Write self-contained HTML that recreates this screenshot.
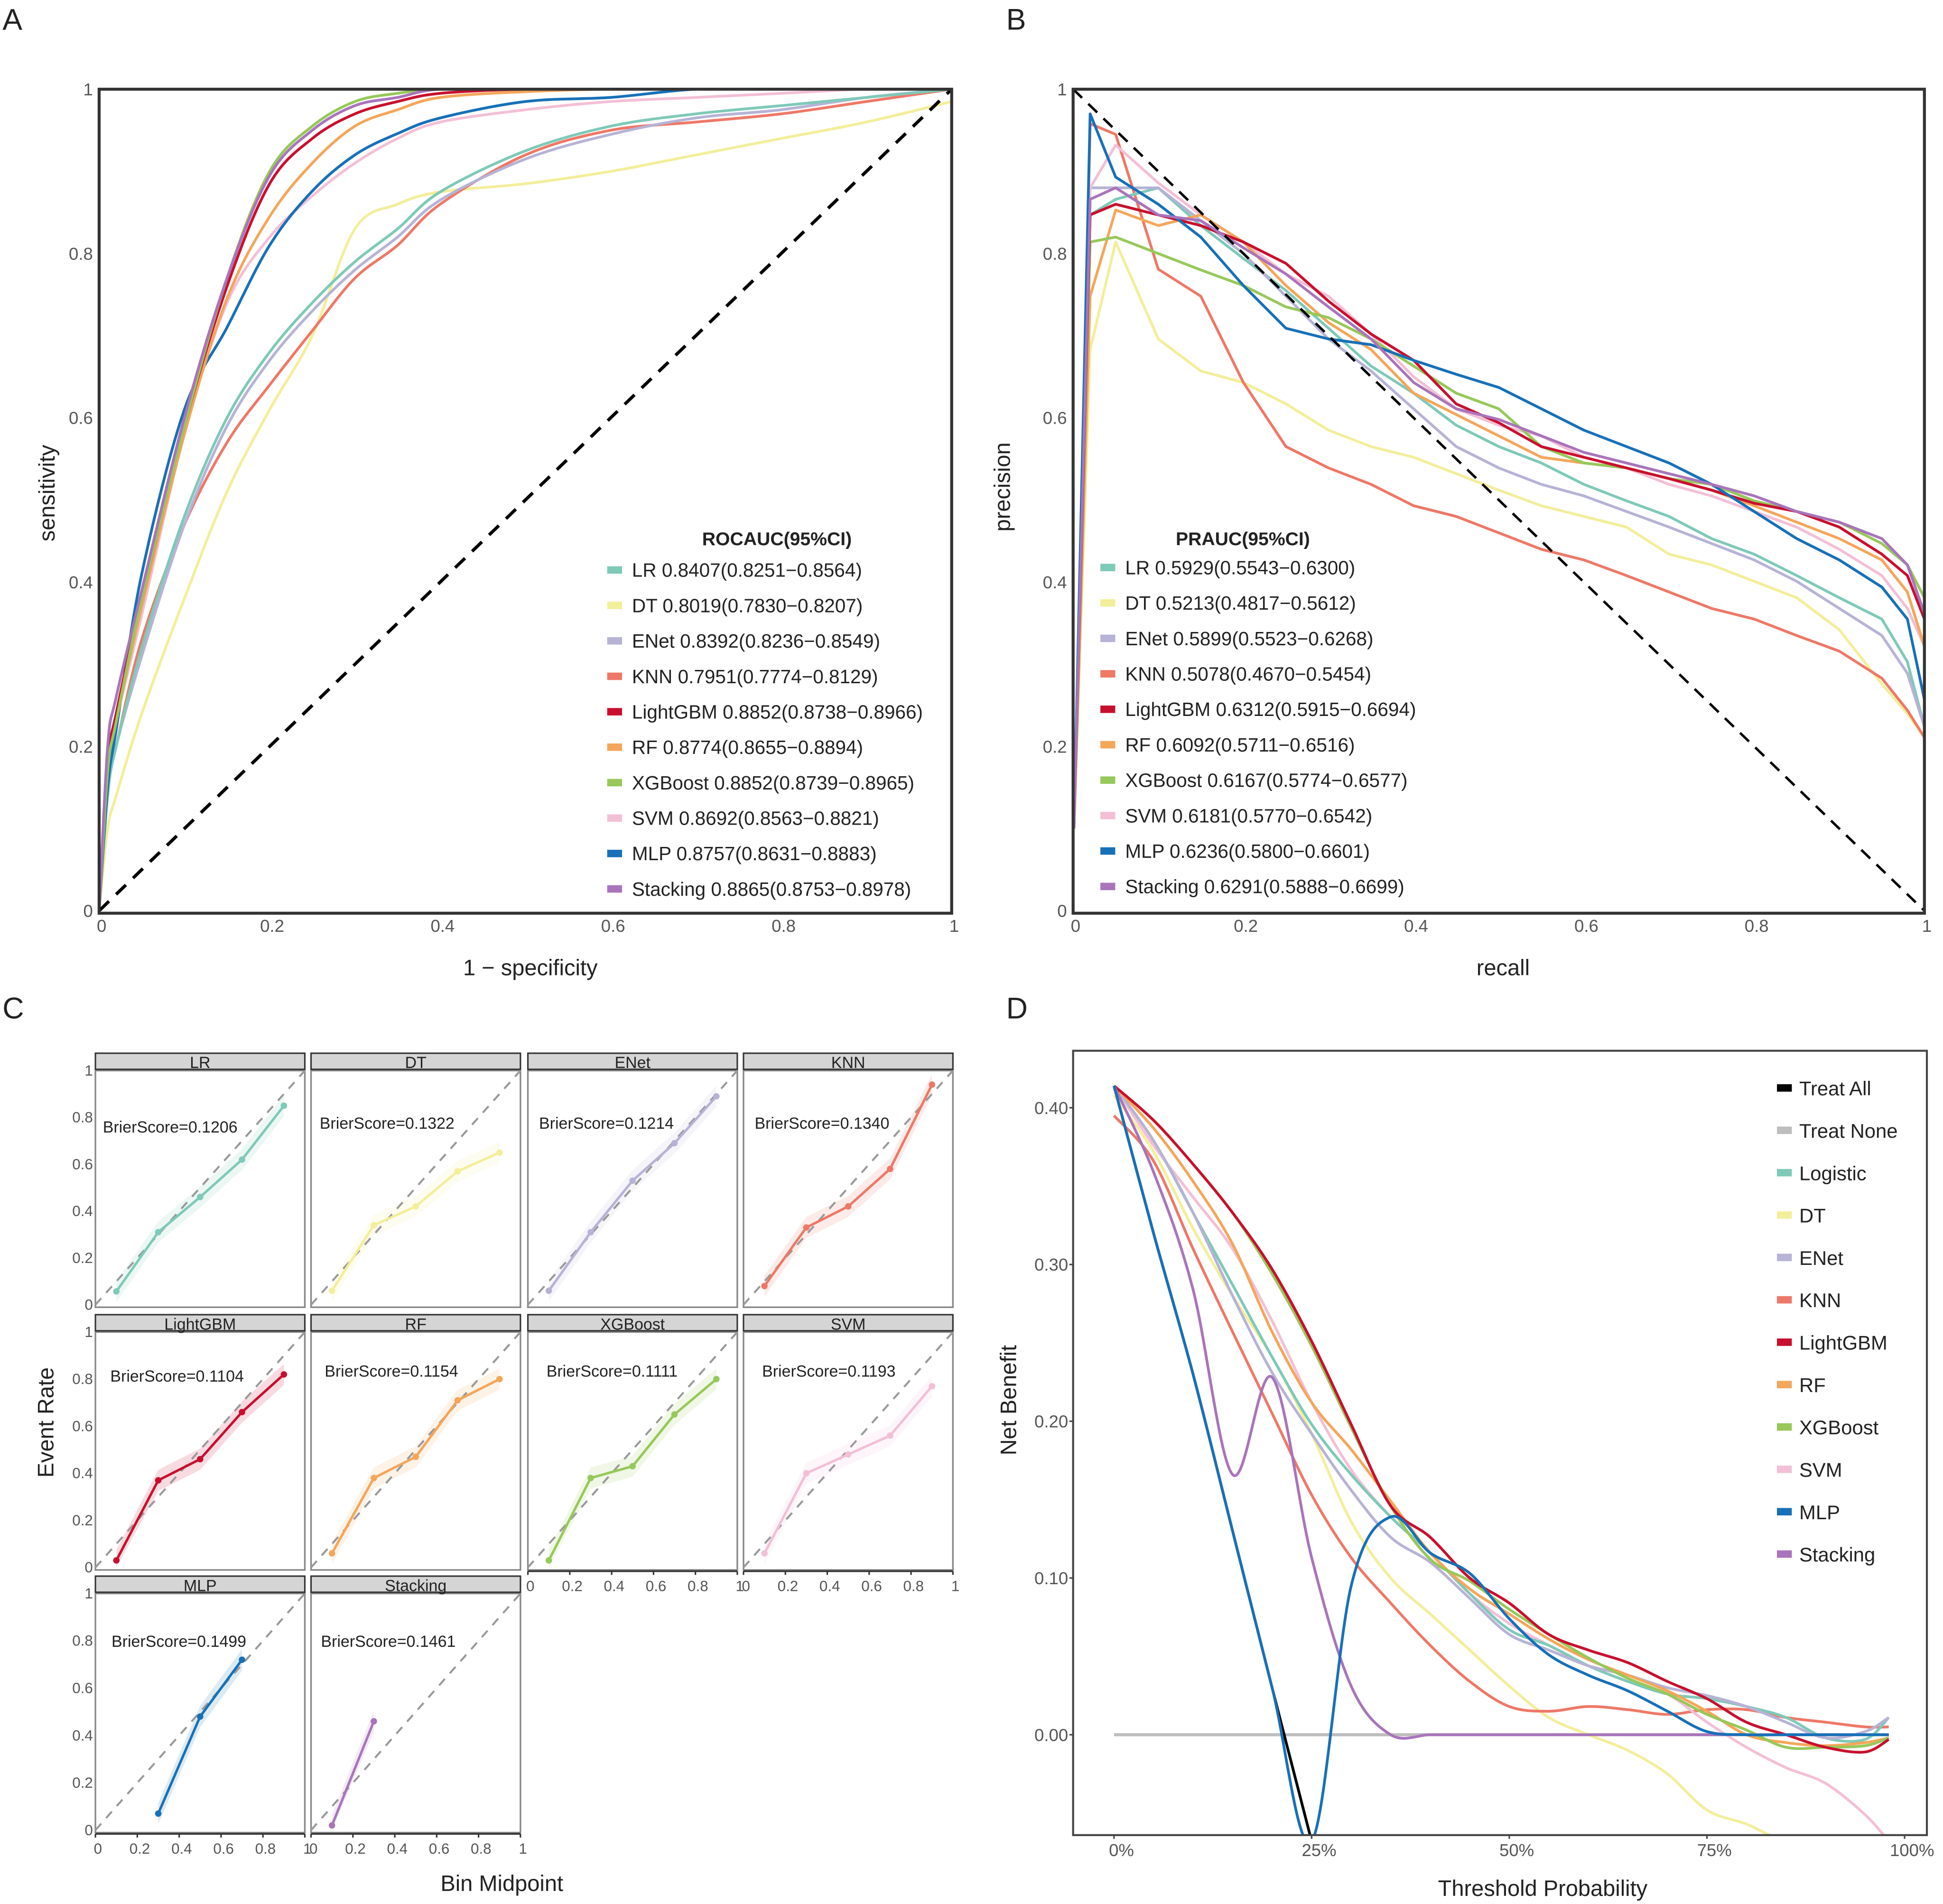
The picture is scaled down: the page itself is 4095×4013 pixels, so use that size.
<!DOCTYPE html>
<html><head><meta charset="utf-8"><title>Model evaluation figure</title>
<style>
html,body{margin:0;padding:0;background:#fff;width:4095px;height:4013px;overflow:hidden;}
svg{display:block;font-family:"Liberation Sans",Arial,sans-serif;}
</style></head>
<body>
<svg id="fig" xmlns="http://www.w3.org/2000/svg" width="4095" height="4013" viewBox="0 0 1568 1536.6" preserveAspectRatio="none">
<rect x="0" y="0" width="1568" height="1536.6" fill="#fff"/>
<defs>
<clipPath id="clipA"><rect x="80" y="72" width="688" height="665"/></clipPath>
<clipPath id="clipB"><rect x="866" y="60" width="688" height="677"/></clipPath>
<clipPath id="clipD"><rect x="866" y="848" width="689" height="633"/></clipPath>
</defs>
<g id="panelA"></g>
<g id="panelB"></g>
<g id="panelC"></g>
<g id="panelD"></g>
</svg>
<script>
// ---------- shared ----------
const modelNames = ["LR","DT","ENet","KNN","LightGBM","RF","XGBoost","SVM","MLP","Stacking"];
const modelColors = ["#7fc9b8","#f3ee9a","#b6b3d6","#ee7867","#c8102e","#f4a65a","#97c85a","#f3bfd6","#1770b8","#a974bb"];

// ---------- Panel A: ROC ----------
const rocFpr = [0,0.01,0.02,0.05,0.1,0.15,0.2,0.25,0.3,0.35,0.4,0.5,0.6,0.7,0.8,0.9,1];
const rocLR = [0,.14,.2,.32,.48,.60,.68,.74,.79,.83,.875,.925,.955,.97,.98,.99,1];
const rocDT = [0,.1,.14,.24,.38,.51,.61,.70,.83,.86,.875,.885,.90,.92,.94,.96,.985];
const rocENet = [0,.14,.2,.31,.47,.59,.67,.73,.78,.82,.865,.915,.945,.965,.975,.99,1];
const rocKNN = [0,.15,.2,.33,.47,.57,.64,.706,.77,.81,.86,.92,.95,.96,.97,.985,1];
const rocLightGBM = [0,.18,.24,.38,.59,.76,.885,.94,.97,.985,.995,1,1,1,1,1,1];
const rocRF = [0,.17,.23,.37,.58,.745,.845,.91,.955,.975,.99,.997,1,1,1,1,1];
const rocXGBoost = [0,.17,.23,.38,.59,.77,.9,.955,.985,.995,1,1,1,1,1,1,1];
const rocSVM = [0,.16,.23,.36,.58,.74,.82,.87,.91,.94,.96,.975,.985,.99,.995,1,1];
const rocMLP = [0,.15,.22,.41,.61,.71,.81,.876,.92,.946,.965,.985,.99,1,1,1,1];
const rocStacking = [0,.2,.26,.39,.6,.77,.895,.95,.98,.99,1,1,1,1,1,1,1];
const rocAuc = ["0.8407(0.8251−0.8564)","0.8019(0.7830−0.8207)","0.8392(0.8236−0.8549)","0.7951(0.7774−0.8129)","0.8852(0.8738−0.8966)","0.8774(0.8655−0.8894)","0.8852(0.8739−0.8965)","0.8692(0.8563−0.8821)","0.8757(0.8631−0.8883)","0.8865(0.8753−0.8978)"];
const rocTicks = [0,0.2,0.4,0.6,0.8,1];
const rocTickLabels = ["0","0.2","0.4","0.6","0.8","1"];

// ---------- Panel B: PR ----------
const prRecall = [0.02,0.05,0.1,0.15,0.2,0.25,0.3,0.35,0.4,0.45,0.5,0.55,0.6,0.65,0.7,0.75,0.8,0.85,0.9,0.95,0.98,1.0];
const prLR = [.847,.866,.88,.834,.794,.755,.709,.663,.63,.591,.565,.545,.519,.499,.48,.453,.434,.408,.381,.355,.303,.224];
const prDT = [.683,.814,.696,.657,.643,.617,.585,.565,.552,.532,.512,.493,.48,.467,.434,.421,.401,.381,.342,.276,.24,.211];
const prENet = [.88,.88,.88,.84,.8,.748,.696,.657,.611,.565,.539,.519,.505,.486,.467,.447,.427,.401,.368,.335,.289,.224];
const prKNN = [.958,.945,.781,.748,.643,.565,.539,.519,.493,.48,.46,.44,.427,.408,.388,.368,.355,.335,.316,.283,.244,.211];
const prLightGBM = [.847,.86,.847,.834,.814,.788,.742,.702,.67,.617,.594,.565,.552,.539,.526,.512,.496,.486,.467,.434,.408,.355];
const prRF = [.748,.853,.834,.847,.814,.761,.716,.683,.63,.604,.578,.552,.545,.539,.526,.512,.493,.473,.453,.427,.388,.322];
const prXGBoost = [.814,.82,.80,.78,.761,.735,.722,.696,.663,.63,.611,.565,.545,.539,.526,.519,.499,.486,.473,.447,.421,.381];
const prSVM = [.88,.932,.886,.847,.814,.775,.748,.702,.65,.611,.591,.578,.552,.539,.519,.505,.486,.467,.44,.408,.368,.322];
const prMLP = [.97,.893,.86,.82,.761,.709,.696,.689,.67,.653,.637,.611,.585,.565,.545,.519,.486,.453,.427,.394,.355,.257];
const prStacking = [.866,.88,.847,.84,.807,.775,.735,.696,.643,.611,.598,.578,.558,.545,.532,.519,.505,.486,.473,.453,.421,.362];
const prAuc = ["0.5929(0.5543−0.6300)","0.5213(0.4817−0.5612)","0.5899(0.5523−0.6268)","0.5078(0.4670−0.5454)","0.6312(0.5915−0.6694)","0.6092(0.5711−0.6516)","0.6167(0.5774−0.6577)","0.6181(0.5770−0.6542)","0.6236(0.5800−0.6601)","0.6291(0.5888−0.6699)"];

// ---------- Panel C: calibration ----------
const calX = [0.1,0.3,0.5,0.7,0.9];
const calLR = [.057,.31,.46,.62,.85];
const calDT = [.06,.34,.42,.57,.65];
const calENet = [.06,.31,.53,.69,.89];
const calKNN = [.08,.33,.42,.58,.94];
const calLightGBM = [.03,.37,.46,.66,.82];
const calRF = [.06,.38,.47,.71,.80];
const calXGBoost = [.03,.38,.43,.65,.80];
const calSVM = [.06,.40,.48,.56,.77];
const calMLP = [null,.07,.48,.72,null];
const calStacking = [.02,.46,null,null,null];
const brierScores = ["0.1206","0.1322","0.1214","0.1340","0.1104","0.1154","0.1111","0.1193","0.1499","0.1461"];
const calTicks = [0,0.2,0.4,0.6,0.8,1];
const calTickLabels = ["0","0.2","0.4","0.6","0.8","1"];

// ---------- Panel D: decision curve ----------
const dcaT = [0,0.05,0.1,0.15,0.2,0.25,0.3,0.35,0.4,0.45,0.5,0.55,0.6,0.65,0.7,0.75,0.8,0.85,0.9,0.95,0.98];
const dcaTreatAll = [.414,.32,.23,.13,.03,-.08];
const dcaLR = [.414,.379,.333,.287,.241,.198,.166,.139,.116,.090,.067,.057,.044,.034,.026,.023,.018,.011,-.002,-.003,.011];
const dcaDT = [.408,.372,.323,.280,.241,.192,.136,.100,.077,.054,.031,.011,0,-.010,-.025,-.048,-.057,-.074,-.116,-.15,-.17];
const dcaENet = [.414,.379,.333,.280,.231,.192,.156,.126,.110,.087,.064,.054,.044,.038,.030,.025,.018,.008,-.002,.002,.011];
const dcaKNN = [.395,.366,.310,.257,.205,.153,.113,.084,.057,.034,.018,.015,.018,.016,.013,.016,.016,.011,.008,.005,.005];
const dcaLightGBM = [.414,.392,.364,.333,.297,.251,.198,.146,.126,.100,.084,.064,.054,.046,.034,.023,.008,0,-.008,-.011,-.003];
const dcaRF = [.414,.387,.353,.313,.257,.212,.182,.149,.116,.093,.077,.061,.048,.038,.028,.015,0,-.005,-.007,-.005,-.002];
const dcaXGBoost = [.414,.392,.364,.333,.294,.248,.196,.146,.112,.098,.080,.064,.049,.036,.026,.013,.003,-.008,-.008,-.007,-.002];
const dcaSVM = [.414,.376,.343,.310,.264,.212,.169,.139,.116,.090,.071,.057,.044,.034,.026,.008,-.008,-.021,-.031,-.051,-.084];
const dcaMLP = [.414,.32,.23,.13,.03,-.09,.095,.139,.116,.103,.074,.051,.038,.028,.015,.002,0,0,0,0,0];
const dcaStacking = [.414,.359,.284,.166,.228,.113,.031,0,0,0,0,0,0,0,0,0,0,0,0,0,0];
const dcaYTicks = [0,0.1,0.2,0.3,0.4];
const dcaYLabels = ["0.00","0.10","0.20","0.30","0.40"];
const dcaXTicks = [0,0.25,0.5,0.75,1];
const dcaXLabels = ["0%","25%","50%","75%","100%"];
const dcaLegend = ["Treat All","Treat None","Logistic","DT","ENet","KNN","LightGBM","RF","XGBoost","SVM","MLP","Stacking"];
const dcaLegendColors = ["#000000","#bdbdbd","#7fc9b8","#f3ee9a","#b6b3d6","#ee7867","#c8102e","#f4a65a","#97c85a","#f3bfd6","#1770b8","#a974bb"];

// ---------- helpers ----------
const NS = "http://www.w3.org/2000/svg";
function mk(parent, tag, attrs, text){
  const e = document.createElementNS(NS, tag);
  for (const k in attrs) e.setAttribute(k, attrs[k]);
  if (text !== undefined) e.textContent = text;
  parent.appendChild(e);
  return e;
}
function poly(xs, ys, sx, sy){
  const pts = [];
  for (let i=0;i<xs.length;i++){ if (ys[i]===null||ys[i]===undefined) continue; pts.push(sx(xs[i]).toFixed(2)+","+sy(ys[i]).toFixed(2)); }
  return pts.join(" ");
}
function smoothPath(xs, ys, sx, sy){
  const p = [];
  for (let i=0;i<ys.length && i<xs.length;i++) p.push([sx(xs[i]), sy(ys[i])]);
  let d = "M"+p[0][0].toFixed(2)+","+p[0][1].toFixed(2);
  for (let i=0;i<p.length-1;i++){
    const p0=p[Math.max(0,i-1)], p1=p[i], p2=p[i+1], p3=p[Math.min(p.length-1,i+2)];
    const c1=[p1[0]+(p2[0]-p0[0])/6, p1[1]+(p2[1]-p0[1])/6];
    const c2=[p2[0]-(p3[0]-p1[0])/6, p2[1]-(p3[1]-p1[1])/6];
    d += " C"+c1[0].toFixed(2)+","+c1[1].toFixed(2)+" "+c2[0].toFixed(2)+","+c2[1].toFixed(2)+" "+p2[0].toFixed(2)+","+p2[1].toFixed(2);
  }
  return d;
}

// ---------- draw A ----------
(function(){
  const g = document.getElementById("panelA");
  const L=80,R=768,T=72,B=735;
  const sx = v => L + v*(R-L), sy = v => B - v*(B-T);
  let t = mk(g,"text",{x:2,y:24,"font-size":24,fill:"#222"},"A");
   
  const lines = mk(g,"g",{"clip-path":"url(#clipA)"});
  const series = [rocLR,rocDT,rocENet,rocKNN,rocLightGBM,rocRF,rocXGBoost,rocSVM,rocMLP,rocStacking];
  const order = [1,3,2,0,7,8,5,4,6,9];
  order.forEach(i=>{
    const pl = mk(lines,"path",{d:smoothPath(rocFpr,series[i],sx,sy),fill:"none",stroke:modelColors[i],"stroke-width":2.2,"stroke-linejoin":"round"});
    
    
  });
  const diag = mk(g,"line",{x1:sx(0),y1:sy(0),x2:sx(1),y2:sy(1),stroke:"#000","stroke-width":2.6,"stroke-dasharray":"11,8"});
   
  const box = mk(g,"rect",{x:L,y:T,width:R-L,height:B-T+2,fill:"none",stroke:"#333","stroke-width":2.4});
   
  rocTicks.forEach((v,i)=>{
    const a = mk(g,"text",{x:sx(v)+2,y:752,"font-size":14,fill:"#555","text-anchor":"middle"},rocTickLabels[i]);
     
    const b = mk(g,"text",{x:75,y:sy(v)+5,"font-size":14,fill:"#555","text-anchor":"end"},rocTickLabels[i]);
     
  });
  const xt = mk(g,"text",{x:428,y:787,"font-size":18,fill:"#222","text-anchor":"middle"},"1 − specificity");
   
  const yt = mk(g,"text",{x:0,y:0,"font-size":18,fill:"#222","text-anchor":"middle",transform:"translate(44,398) rotate(-90)"},"sensitivity");
   
  const lt = mk(g,"text",{x:627,y:440,"font-size":15,"font-weight":"bold",fill:"#222","text-anchor":"middle"},"ROCAUC(95%CI)");
   
  modelNames.forEach((n,i)=>{
    const y = 460 + i*28.6;
    const e = mk(g,"g",{});
     
    mk(e,"rect",{x:490,y:y-3,width:12,height:6,fill:modelColors[i]});
    mk(e,"text",{x:510,y:y+5.5,"font-size":15.5,fill:"#222"},n+" "+rocAuc[i]);
  });
})();

// ---------- draw B ----------
(function(){
  const g = document.getElementById("panelB");
  const L=866,R=1553,T=72,B=735;
  const sx = v => L + v*(R-L), sy = v => B - v*(B-T);
  let t = mk(g,"text",{x:812,y:24,"font-size":24,fill:"#222"},"B");
   
  const lines = mk(g,"g",{"clip-path":"url(#clipB)"});
  const series = [prLR,prDT,prENet,prKNN,prLightGBM,prRF,prXGBoost,prSVM,prMLP,prStacking];
  const order = [1,3,0,2,7,5,6,4,8,9];
  order.forEach(i=>{
    const ys = [0.1].concat(series[i]);
    const xs = [0.001].concat(prRecall);
    const pl = mk(lines,"polyline",{points:poly(xs,ys,sx,sy),fill:"none",stroke:modelColors[i],"stroke-width":2.2,"stroke-linejoin":"round"});
    
    
  });
  const diag = mk(g,"line",{x1:sx(0),y1:sy(1),x2:sx(1),y2:sy(0),stroke:"#000","stroke-width":2,"stroke-dasharray":"10,7"});
   
  const box = mk(g,"rect",{x:L,y:T,width:R-L,height:B-T+2,fill:"none",stroke:"#333","stroke-width":2.4});
   
  rocTicks.forEach((v,i)=>{
    const a = mk(g,"text",{x:sx(v)+2,y:752,"font-size":14,fill:"#555","text-anchor":"middle"},rocTickLabels[i]);
     
    const b = mk(g,"text",{x:861,y:sy(v)+5,"font-size":14,fill:"#555","text-anchor":"end"},rocTickLabels[i]);
     
  });
  const xt = mk(g,"text",{x:1213,y:787,"font-size":18,fill:"#222","text-anchor":"middle"},"recall");
   
  const yt = mk(g,"text",{x:0,y:0,"font-size":18,fill:"#222","text-anchor":"middle",transform:"translate(815,393) rotate(-90)"},"precision");
   
  const lt = mk(g,"text",{x:1003,y:440,"font-size":15,"font-weight":"bold",fill:"#222","text-anchor":"middle"},"PRAUC(95%CI)");
   
  modelNames.forEach((n,i)=>{
    const y = 458 + i*28.6;
    const e = mk(g,"g",{});
     
    mk(e,"rect",{x:888,y:y-3,width:12,height:6,fill:modelColors[i]});
    mk(e,"text",{x:908,y:y+5.5,"font-size":15.5,fill:"#222"},n+" "+prAuc[i]);
  });
})();

// ---------- draw C ----------
(function(){
  const g = document.getElementById("panelC");
  let t = mk(g,"text",{x:2,y:822,"font-size":24,fill:"#222"},"C");
   
  const cols = [77,251,426,600], W = 169;
  const rows = [[850,864,1054],[1061,1075,1266],[1272,1286,1478]];
  const series = [calLR,calDT,calENet,calKNN,calLightGBM,calRF,calXGBoost,calSVM,calMLP,calStacking];
  const brierPos = [[83,909],[258,906],[435,906],[609,906],[89,1110],[262,1106],[441,1106],[615,1106],[90,1324],[259,1324]];
  modelNames.forEach((n,i)=>{
    const r = rows[Math.floor(i/4)], c = cols[i%4];
    const f = mk(g,"g",{});
     
    const y0 = r[2]-1, y1 = r[1];
    const sx = v => c + v*W, sy = v => y0 - v*(y0-y1);
    mk(f,"rect",{x:c,y:r[1],width:W,height:r[2]-r[1]+1,fill:"#fff",stroke:"#888","stroke-width":1.3});
    const strip = mk(f,"rect",{x:c,y:r[0],width:W,height:r[1]-r[0]-1,fill:"#d5d5d5",stroke:"#333","stroke-width":1.2});
     
    mk(f,"text",{x:c+W/2,y:r[0]+12,"font-size":13,fill:"#222","text-anchor":"middle"},n);
    const ys = series[i], xs = calX;
    const up=[], lo=[];
    for (let k=0;k<xs.length;k++){ if (ys[k]===null) continue; up.push(sx(xs[k]).toFixed(1)+","+sy(Math.min(1,ys[k]+0.045)).toFixed(1)); lo.unshift(sx(xs[k]).toFixed(1)+","+sy(Math.max(0,ys[k]-0.045)).toFixed(1)); }
    const band = mk(f,"polygon",{points:up.concat(lo).join(" "),fill:modelColors[i],opacity:0.15});
     
    const dl = mk(f,"line",{x1:sx(0),y1:sy(0),x2:sx(1),y2:sy(1),stroke:"#999","stroke-width":1.6,"stroke-dasharray":"7,6"});
     
    const pl = mk(f,"polyline",{points:poly(xs,ys,sx,sy),fill:"none",stroke:modelColors[i],"stroke-width":2});
     
    for (let k=0;k<xs.length;k++){ if (ys[k]===null) continue;
      const p = mk(f,"circle",{cx:sx(xs[k]),cy:sy(ys[k]),r:2.6,fill:modelColors[i]});
        }
    mk(f,"text",{x:brierPos[i][0],y:brierPos[i][1]+5,"font-size":13,fill:"#222"},"BrierScore="+brierScores[i]);
    if (i%4===0){
      calTicks.forEach((v,k)=>{ const a = mk(g,"text",{x:c-2,y:sy(v)+4,"font-size":12,fill:"#555","text-anchor":"end"},calTickLabels[k]);
          });
    }
    if (i>=6){
      mk(g,"line",{x1:c,y1:y0+3,x2:c+W,y2:y0+3,stroke:"#333","stroke-width":1.4});
      calTicks.forEach((v,k)=>{ mk(g,"line",{x1:sx(v),y1:y0+3,x2:sx(v),y2:y0+6,stroke:"#333","stroke-width":1.2});
        const a = mk(g,"text",{x:sx(v)+2,y:y0+19,"font-size":12,fill:"#555","text-anchor":"middle"},calTickLabels[k]);
          });
    }
  });
  const xt = mk(g,"text",{x:405,y:1526,"font-size":18,fill:"#222","text-anchor":"middle"},"Bin Midpoint");
   
  const yt = mk(g,"text",{x:0,y:0,"font-size":18,fill:"#222","text-anchor":"middle",transform:"translate(43,1148) rotate(-90)"},"Event Rate");
   
})();

// ---------- draw D ----------
(function(){
  const g = document.getElementById("panelD");
  const L=866,R=1555,T=848,B=1481;
  const sx = v => 899 + v*638, sy = v => Math.min(1486, 1400 - v*1265);
  let t = mk(g,"text",{x:812,y:822,"font-size":24,fill:"#222"},"D");
   
  const lines = mk(g,"g",{"clip-path":"url(#clipD)"});
  const tn = mk(lines,"line",{x1:sx(0),y1:sy(0),x2:sx(0.98),y2:sy(0),stroke:"#bdbdbd","stroke-width":2.5});
   
  const ta = mk(lines,"path",{d:smoothPath(dcaT,dcaTreatAll,sx,sy),fill:"none",stroke:"#000","stroke-width":2.2});
   
  const series = [dcaLR,dcaDT,dcaENet,dcaKNN,dcaLightGBM,dcaRF,dcaXGBoost,dcaSVM,dcaMLP,dcaStacking];
  const order = [1,3,7,0,2,5,6,4,9,8];
  order.forEach(i=>{
    const p = mk(lines,"path",{d:smoothPath(dcaT,series[i],sx,sy),fill:"none",stroke:modelColors[i],"stroke-width":2.2});
    
    
  });
  const box = mk(g,"rect",{x:L,y:T,width:R-L,height:B-T,fill:"none",stroke:"#444","stroke-width":1.6});
   
  dcaYTicks.forEach((v,i)=>{
    mk(g,"line",{x1:L-3,y1:sy(v),x2:L,y2:sy(v),stroke:"#444","stroke-width":1.2});
    const a = mk(g,"text",{x:L-4,y:sy(v)+5,"font-size":14,fill:"#555","text-anchor":"end"},dcaYLabels[i]);
     
  });
  dcaXTicks.forEach((v,i)=>{
    mk(g,"line",{x1:sx(v),y1:B,x2:sx(v),y2:B+3,stroke:"#444","stroke-width":1.2});
    const a = mk(g,"text",{x:sx(v)+6,y:B+17,"font-size":14,fill:"#555","text-anchor":"middle"},dcaXLabels[i]);
     
  });
  const xt = mk(g,"text",{x:1245,y:1530,"font-size":18,fill:"#222","text-anchor":"middle"},"Threshold Probability");
   
  const yt = mk(g,"text",{x:0,y:0,"font-size":18,fill:"#222","text-anchor":"middle",transform:"translate(820,1130) rotate(-90)"},"Net Benefit");
   
  dcaLegend.forEach((n,i)=>{
    const y = 878 + i*34.2;
    const e = mk(g,"g",{});
     
    mk(e,"rect",{x:1434,y:y-3,width:12,height:6,fill:dcaLegendColors[i]});
    mk(e,"text",{x:1452,y:y+6,"font-size":16,fill:"#222"},n);
  });
})();
</script>
</body></html>
